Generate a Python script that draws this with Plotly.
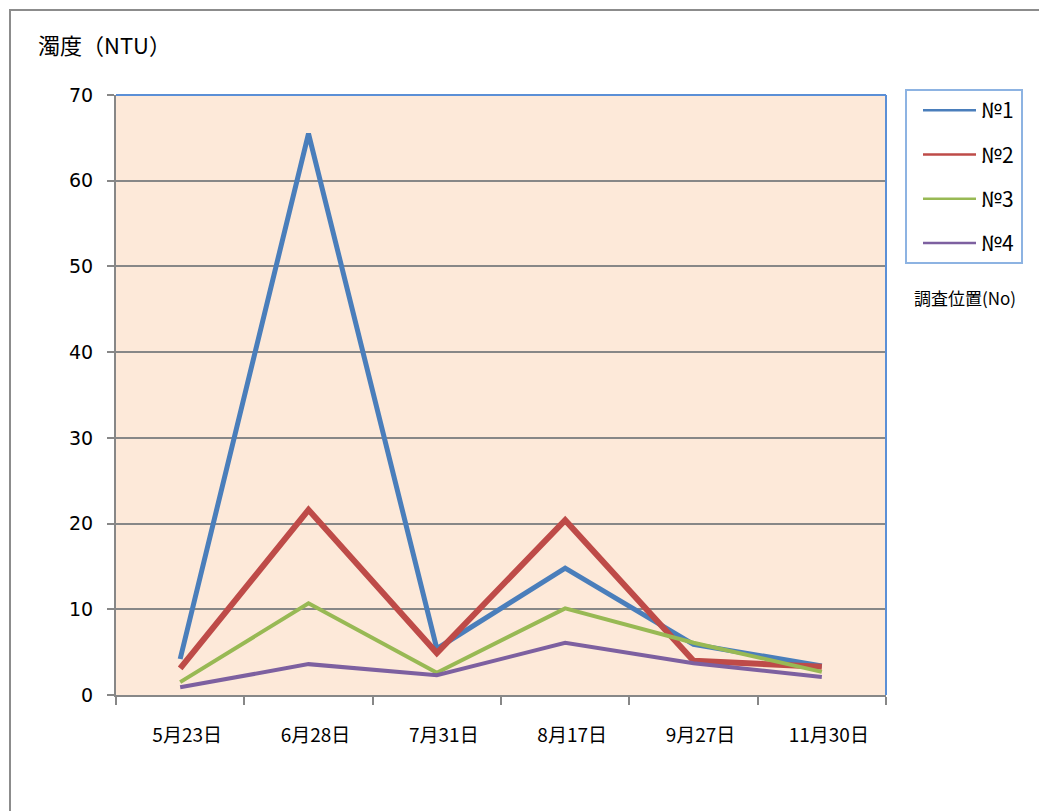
import plotly.graph_objects as go

categories = ["5月23日", "6月28日", "7月31日", "8月17日", "9月27日", "11月30日"]
series_names = ["№1", "№2", "№3", "№4"]
no1 = [4.2, 65.5, 5.4, 14.8, 5.9, 3.4]
no2 = [3.1, 21.6, 4.9, 20.4, 4.0, 3.3]
no3 = [1.5, 10.7, 2.6, 10.1, 6.1, 2.7]
no4 = [0.9, 3.6, 2.3, 6.1, 3.7, 2.1]
y_ticks = [0, 10, 20, 30, 40, 50, 60, 70]

colors = ["#4a7ebb", "#be4b48", "#98b954", "#7d60a0"]
widths = [5, 6, 4, 4]
values = [no1, no2, no3, no4]

fig = go.Figure()
for name, vals, c, w in zip(series_names, values, colors, widths):
    fig.add_trace(go.Scatter(x=categories, y=vals, mode="lines", name=name,
                             line=dict(color=c, width=w), showlegend=False))
# legend-only traces with thin sample lines
for i, (name, c) in enumerate(zip(series_names, colors)):
    fig.add_trace(go.Scatter(x=[None], y=[None], mode="lines", name=name,
                             legendgroup=f"g{i}",
                             line=dict(color=c, width=2.5), showlegend=True))

L, T, R, B = 116, 95, 886, 695
W, H = 1039, 811
pw, ph = R - L, B - T

def px(x):
    return (x - L) / pw

def py(y):
    return (B - y) / ph

fig.update_layout(
    width=W, height=H,
    margin=dict(l=L, r=W - R, t=T, b=H - B, pad=0),
    paper_bgcolor="white",
    plot_bgcolor="#fde9d9",
    font=dict(family="Noto Sans CJK JP, Noto Sans", color="black"),
    showlegend=True,
    legend=dict(
        x=px(918), y=py(90), xanchor="left", yanchor="top",
        bgcolor="rgba(0,0,0,0)", borderwidth=0,
        font=dict(size=21, family="Noto Sans CJK JP"),
        traceorder="grouped", tracegroupgap=14,
        itemwidth=53,
    ),
    xaxis=dict(
        type="category", range=[-0.5, 5.5],
        tickson="boundaries", ticks="outside", ticklen=8, tickwidth=2,
        tickcolor="#878787", showline=True, linecolor="#878787", linewidth=2,
        showgrid=False, tickfont=dict(size=19, family="Noto Sans CJK JP"),
        ticklabelstandoff=22, ticklabelshift=7,
        fixedrange=True,
    ),
    yaxis=dict(
        range=[0, 70], tickvals=y_ticks, ticks="outside", ticklen=7, tickwidth=2,
        tickcolor="#878787", showline=True, linecolor="#878787", linewidth=2,
        showgrid=True, gridcolor="#878787", gridwidth=2, zeroline=False,
        tickfont=dict(size=19, family="DejaVu Sans"),
        ticklabelstandoff=10,
        fixedrange=True,
    ),
)

# legend frame
fig.add_shape(type="rect", xref="paper", yref="paper",
              x0=px(906), x1=px(1022), y0=py(263), y1=py(90),
              fillcolor="white", line=dict(color="#8db3e2", width=2), layer="below")
# plot area border (top & right) in blue
fig.add_shape(type="line", xref="paper", yref="paper", x0=0, x1=1, y0=1, y1=1,
              line=dict(color="#5b8fd6", width=2), layer="above")
fig.add_shape(type="line", xref="paper", yref="paper", x0=1, x1=1, y0=0, y1=1,
              line=dict(color="#5b8fd6", width=2), layer="above")
# outer chart border
fig.add_shape(type="rect", xref="paper", yref="paper",
              x0=px(10), x1=px(1100), y0=py(10), y1=py(900),
              line=dict(color="#8c8c8c", width=2), layer="above")

fig.add_annotation(text="濁度（NTU）", xref="paper", yref="paper",
                   x=px(36), y=py(44), xanchor="left", yanchor="middle",
                   showarrow=False, font=dict(size=22, family="Noto Sans CJK JP"))
fig.add_annotation(text="調査位置(No)", xref="paper", yref="paper",
                   x=px(912), y=py(297), xanchor="left", yanchor="middle",
                   showarrow=False, font=dict(size=17, family="Noto Sans CJK JP"))

fig.write_html("out.html", config={"displayModeBar": False},
               post_script="document.body.style.margin='0';document.body.style.overflow='hidden';")
